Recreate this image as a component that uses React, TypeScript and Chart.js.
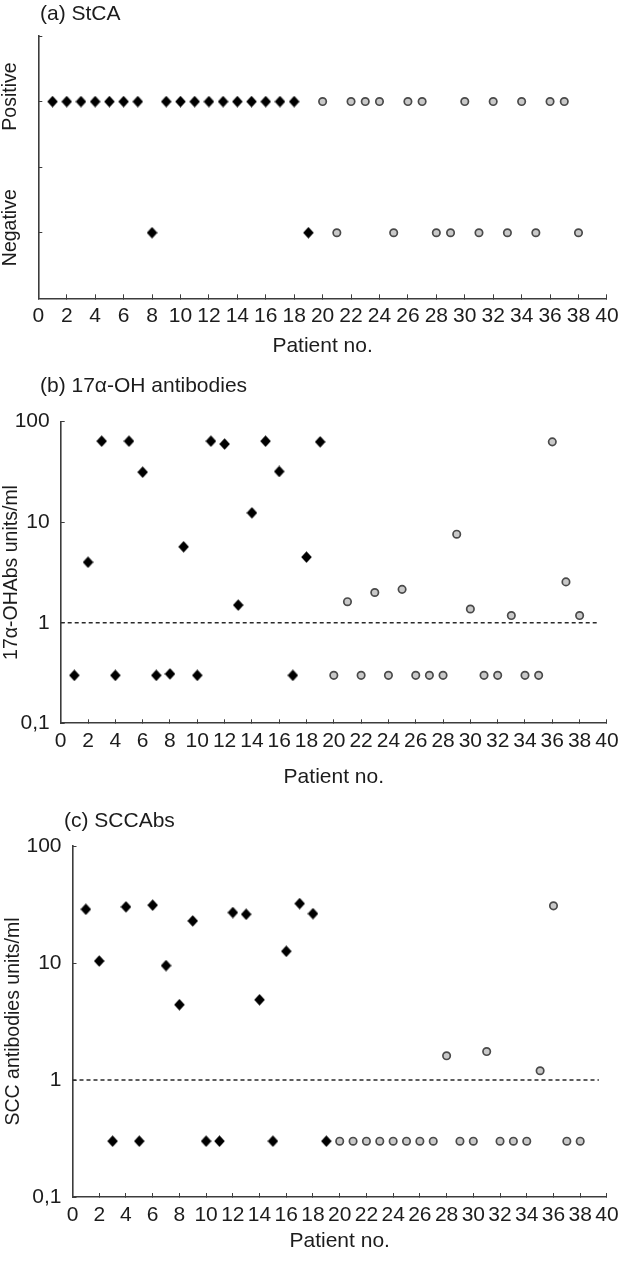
import React, { useEffect, useRef } from 'react';
import { Chart, registerables } from 'chart.js';

Chart.register(...registerables);

// ---------- shared axis data ----------
const patientTickValues = [0, 2, 4, 6, 8, 10, 12, 14, 16, 18, 20, 22, 24, 26, 28, 30, 32, 34, 36, 38, 40];
const logTickValues = [0.1, 1, 10, 100];
const logTickLabels = ['0,1', '1', '10', '100'];
const cutoffX = [0, 39.4];
const cutoffValue = 1;

// ---------- panel (a) StCA ----------
const stcaLevelValues = [1, 3];
const stcaLevelLabels = ['Negative', 'Positive'];
const stcaPositiveDiamond = [1, 2, 3, 4, 5, 6, 7, 9, 10, 11, 12, 13, 14, 15, 16, 17, 18];
const stcaNegativeDiamond = [8, 19];
const stcaPositiveCircle = [20, 22, 23, 24, 26, 27, 30, 32, 34, 36, 37];
const stcaNegativeCircle = [21, 25, 28, 29, 31, 33, 35, 38];

// ---------- panel (b) 17α-OH antibodies ----------
const ohDiamondPatients = [1, 2, 3, 4, 5, 6, 7, 8, 9, 10, 11, 12, 13, 14, 15, 16, 17, 18, 19];
const ohDiamondValues = [0.3, 4.0, 64, 0.3, 64, 31.5, 0.3, 0.31, 5.7, 0.3, 64, 60, 1.5, 12.4, 64, 32, 0.3, 4.5, 63];
const ohCirclePatients = [20, 21, 22, 23, 24, 25, 26, 27, 28, 29, 30, 31, 32, 33, 34, 35, 36, 37, 38];
const ohCircleValues = [0.3, 1.62, 0.3, 2.0, 0.3, 2.15, 0.3, 0.3, 0.3, 7.6, 1.37, 0.3, 0.3, 1.18, 0.3, 0.3, 63, 2.55, 1.18];

// ---------- panel (c) SCCAbs ----------
const sccDiamondPatients = [1, 2, 3, 4, 5, 6, 7, 8, 9, 10, 11, 12, 13, 14, 15, 16, 17, 18, 19];
const sccDiamondValues = [28.8, 10.4, 0.3, 30.2, 0.3, 31.2, 9.5, 4.4, 22.9, 0.3, 0.3, 27, 26.1, 4.85, 0.3, 12.6, 32.2, 26.4, 0.3];
const sccCirclePatients = [20, 21, 22, 23, 24, 25, 26, 27, 28, 29, 30, 31, 32, 33, 34, 35, 36, 37, 38];
const sccCircleValues = [0.3, 0.3, 0.3, 0.3, 0.3, 0.3, 0.3, 0.3, 1.61, 0.3, 0.3, 1.75, 0.3, 0.3, 0.3, 1.2, 30.8, 0.3, 0.3];

const FONT = '"Liberation Sans", Arial, Helvetica, sans-serif';
const INK = '#1c1c1c';
const AXIS = '#3c3c3c';
const FS = 21;
const FS_YTITLE = 19.5;

Chart.defaults.font.family = FONT;
Chart.defaults.color = INK;

function diamondImage(): HTMLCanvasElement {
  const c = document.createElement('canvas');
  c.width = 11;
  c.height = 12;
  const g = c.getContext('2d')!;
  g.fillStyle = '#000';
  g.beginPath();
  g.moveTo(5.5, 0.3);
  g.lineTo(10.8, 6);
  g.lineTo(5.5, 11.7);
  g.lineTo(0.2, 6);
  g.closePath();
  g.fill();
  return c;
}

function diamondSet(xs: number[], ys: number[], img: HTMLCanvasElement) {
  return {
    label: 'diamond',
    data: xs.map((x, i) => ({ x, y: ys[i] })),
    pointStyle: img,
    pointRadius: 6,
    showLine: false,
  };
}

function circleSet(xs: number[], ys: number[]) {
  return {
    label: 'circle',
    data: xs.map((x, i) => ({ x, y: ys[i] })),
    pointStyle: 'circle',
    pointRadius: 3.7,
    pointBorderWidth: 1.7,
    pointBorderColor: '#4a4a4a',
    pointBackgroundColor: '#c9c9c9',
    showLine: false,
  };
}

function cutoffSet() {
  return {
    label: 'cutoff',
    data: cutoffX.map((x) => ({ x, y: cutoffValue })),
    showLine: true,
    borderColor: '#2a2a2a',
    borderWidth: 1.3,
    borderDash: [4, 3],
    pointRadius: 0,
    fill: false,
  };
}

function xScale(height: number, titleBottom: number) {
  return {
    type: 'linear',
    min: 0,
    max: 40,
    afterBuildTicks: (s: any) => {
      s.ticks = patientTickValues.map((v) => ({ value: v }));
    },
    afterFit: (s: any) => {
      s.height = height;
    },
    ticks: {
      autoSkip: false,
      maxRotation: 0,
      minRotation: 0,
      padding: 9.4,
      color: INK,
      font: { size: FS },
      callback: (v: number) => String(v),
    },
    grid: {
      display: true,
      drawOnChartArea: false,
      drawTicks: true,
      tickLength: -4,
      color: AXIS,
      lineWidth: 1,
    },
    border: { display: true, color: AXIS, width: 1.6 },
    title: {
      display: true,
      text: 'Patient no.',
      color: INK,
      font: { size: FS },
      padding: { top: 0, bottom: titleBottom },
    },
  };
}

function logYScale(width: number, title: string, titleTop: number) {
  return {
    type: 'logarithmic',
    min: 0.1,
    max: 100,
    afterBuildTicks: (s: any) => {
      s.ticks = logTickValues.map((v) => ({ value: v }));
    },
    afterFit: (s: any) => {
      s.width = width;
    },
    ticks: {
      autoSkip: false,
      padding: 15,
      color: INK,
      font: { size: FS },
      callback: (v: number) => logTickLabels[logTickValues.indexOf(v)] ?? '',
    },
    grid: {
      display: true,
      drawOnChartArea: false,
      drawTicks: true,
      tickLength: -4,
      color: AXIS,
      lineWidth: 1,
    },
    border: { display: true, color: AXIS, width: 1.6 },
    title: {
      display: true,
      text: title,
      color: INK,
      font: { size: FS_YTITLE },
      padding: { top: titleTop, bottom: 0 },
    },
  };
}

function panelTitlePlugin(text: string, x: number, y: number) {
  return {
    id: 'panelTitle',
    afterDraw(chart: any) {
      const ctx = chart.ctx;
      ctx.save();
      ctx.font = `${FS}px ${FONT}`;
      ctx.fillStyle = INK;
      ctx.textAlign = 'left';
      ctx.textBaseline = 'middle';
      ctx.fillText(text, x, y);
      ctx.restore();
    },
  };
}

const levelLabelPlugin = {
  id: 'levelLabels',
  afterDraw(chart: any) {
    const ctx = chart.ctx;
    const y = chart.scales.y;
    ctx.save();
    ctx.font = `${FS_YTITLE}px ${FONT}`;
    ctx.fillStyle = INK;
    ctx.textAlign = 'center';
    ctx.textBaseline = 'middle';
    stcaLevelValues.forEach((v, i) => {
      const py = y.getPixelForValue(v) - 5;
      ctx.save();
      ctx.translate(11, py);
      ctx.rotate(-Math.PI / 2);
      ctx.fillText(stcaLevelLabels[i], 0, 0);
      ctx.restore();
    });
    ctx.restore();
  },
};

function baseOptions(padding: any, scales: any) {
  return {
    responsive: false,
    animation: false,
    devicePixelRatio: 1,
    layout: { padding },
    plugins: { legend: { display: false }, tooltip: { enabled: false }, title: { display: false } },
    scales,
  };
}

function useChart(ref: React.RefObject<HTMLCanvasElement | null>, build: () => any) {
  useEffect(() => {
    if (!ref.current) return;
    const chart = new Chart(ref.current, build());
    return () => chart.destroy();
  }, []);
}

const W = 628;
const HA = 368;
const HB = 432;
const HC = 462;

export default function App() {
  const refA = useRef<HTMLCanvasElement>(null);
  const refB = useRef<HTMLCanvasElement>(null);
  const refC = useRef<HTMLCanvasElement>(null);

  useChart(refA, () => {
    const img = diamondImage();
    return {
      type: 'scatter',
      data: {
        datasets: [
          diamondSet(stcaPositiveDiamond, stcaPositiveDiamond.map(() => stcaLevelValues[1]), img),
          diamondSet(stcaNegativeDiamond, stcaNegativeDiamond.map(() => stcaLevelValues[0]), img),
          circleSet(stcaPositiveCircle, stcaPositiveCircle.map(() => stcaLevelValues[1])),
          circleSet(stcaNegativeCircle, stcaNegativeCircle.map(() => stcaLevelValues[0])),
        ],
      },
      options: baseOptions({ top: 36, left: 0, right: 18, bottom: 0 }, {
        x: xScale(HA - 298.3, 9),
        y: {
          type: 'linear',
          min: 0,
          max: 4,
          afterBuildTicks: (s: any) => {
            s.ticks = [0, 1, 2, 3, 4].map((v) => ({ value: v }));
          },
          afterFit: (s: any) => {
            s.width = 38.3;
          },
          ticks: { display: false },
          grid: {
            display: true,
            drawOnChartArea: false,
            drawTicks: true,
            tickLength: -4,
            color: AXIS,
            lineWidth: 1,
          },
          border: { display: true, color: AXIS, width: 1.6 },
        },
      }),
      plugins: [panelTitlePlugin('(a) StCA', 40, 14), levelLabelPlugin],
    };
  });

  useChart(refB, () => {
    const img = diamondImage();
    return {
      type: 'scatter',
      data: {
        datasets: [
          cutoffSet(),
          diamondSet(ohDiamondPatients, ohDiamondValues, img),
          circleSet(ohCirclePatients, ohCircleValues),
        ],
      },
      options: baseOptions({ top: 421.7 - HA, left: 0, right: 18.7, bottom: 0 }, {
        x: xScale(HA + HB - 723.3, 10.5),
        y: logYScale(60.7, '17α-OHAbs units/ml', 0),
      }),
      plugins: [panelTitlePlugin('(b) 17α-OH antibodies', 40, 386.7 - HA)],
    };
  });

  useChart(refC, () => {
    const img = diamondImage();
    return {
      type: 'scatter',
      data: {
        datasets: [
          cutoffSet(),
          diamondSet(sccDiamondPatients, sccDiamondValues, img),
          circleSet(sccCirclePatients, sccCircleValues),
        ],
      },
      options: baseOptions({ top: 846 - HA - HB, left: 0, right: 17, bottom: 0 }, {
        x: xScale(HA + HB + HC - 1197, 7.8),
        y: logYScale(72.5, 'SCC antibodies units/ml', 1.5),
      }),
      plugins: [panelTitlePlugin('(c) SCCAbs', 64, 821.7 - HA - HB)],
    };
  });

  const cStyle = (top: number, h: number): React.CSSProperties => ({
    position: 'absolute',
    left: 0,
    top,
    width: W,
    height: h,
    display: 'block',
  });

  return (
    <div style={{ position: 'absolute', left: 0, top: 0, width: W, height: HA + HB + HC, background: '#fff' }}>
      <canvas ref={refA} width={W} height={HA} style={cStyle(0, HA)} />
      <canvas ref={refB} width={W} height={HB} style={cStyle(HA, HB)} />
      <canvas ref={refC} width={W} height={HC} style={cStyle(HA + HB, HC)} />
    </div>
  );
}
